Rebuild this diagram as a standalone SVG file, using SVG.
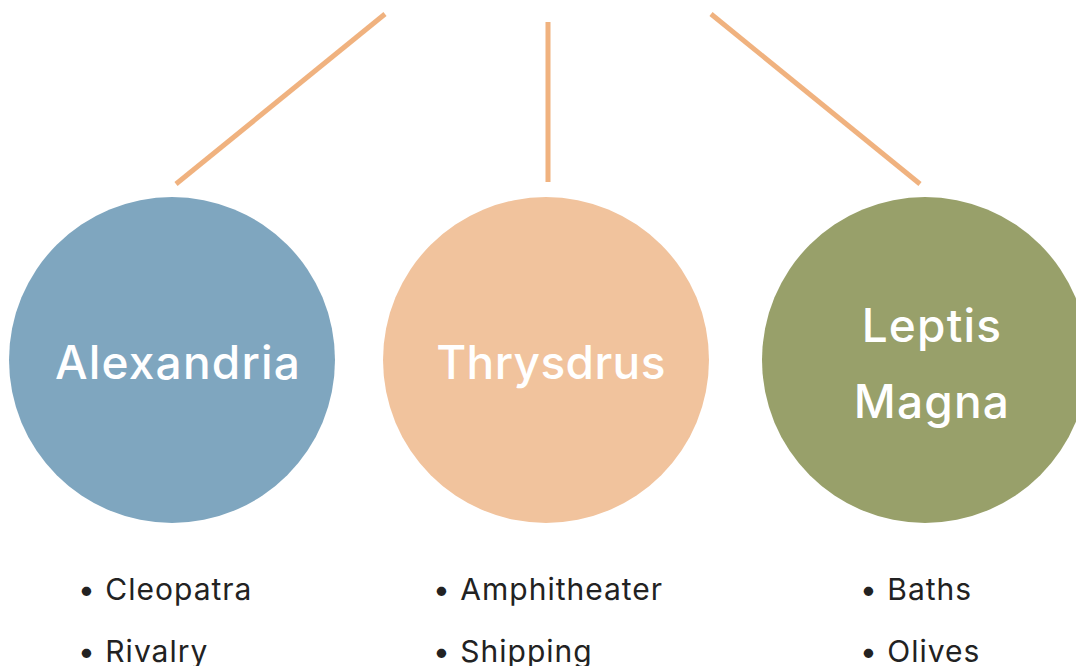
<svg xmlns="http://www.w3.org/2000/svg" width="1076" height="666" viewBox="0 0 1076 666">
<style>
.conn{stroke:#F0B27F;stroke-width:5;fill:none}
.title{font-family:Inter,"Open Sans","Liberation Sans",sans-serif;font-size:46px;font-weight:500;letter-spacing:1.2px;fill:#ffffff;text-anchor:middle}
.tight{letter-spacing:0.4px}
.item{font-family:Inter,"Open Sans","Liberation Sans",sans-serif;font-size:30px;letter-spacing:1px;fill:#222222}
</style>
<rect width="1076" height="666" fill="#ffffff"/>
<g id="connectors">
<line class="conn" x1="385" y1="14" x2="176" y2="184"/>
<line class="conn" x1="548" y1="22" x2="548" y2="182"/>
<line class="conn" x1="711" y1="14" x2="920" y2="184"/>
</g>
<g id="alexandria">
<circle cx="172" cy="360" r="163" fill="#7FA6BF"/>
<text class="title" x="178" y="379">Alexandria</text>
</g>
<g id="thrysdrus">
<circle cx="546" cy="360" r="163" fill="#F1C39D"/>
<text class="title tight" x="551" y="379">Thrysdrus</text>
</g>
<g id="leptis-magna">
<circle cx="925" cy="360" r="163" fill="#98A06A"/>
<text class="title" x="932" y="342">Leptis</text>
<text class="title" x="932" y="418">Magna</text>
</g>
<g id="list-alexandria">
<text class="item" x="78" y="600">• Cleopatra</text>
<text class="item" x="78" y="662">• Rivalry</text>
</g>
<g id="list-thrysdrus">
<text class="item" x="433" y="600">• Amphitheater</text>
<text class="item" x="433" y="662">• Shipping</text>
</g>
<g id="list-leptis">
<text class="item" x="860" y="600">• Baths</text>
<text class="item" x="860" y="662">• Olives</text>
</g>
</svg>
